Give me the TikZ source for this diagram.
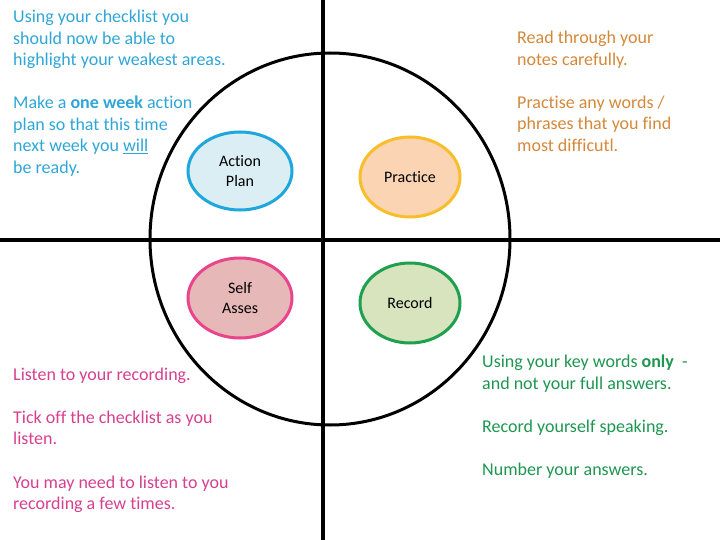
\documentclass[tikz,border=0pt]{standalone}
\usepackage{fontspec}
\setmainfont{Carlito}[Ligatures=NoCommon]
\usetikzlibrary{shapes.geometric}
\definecolor{tblue}{RGB}{47,166,214}
\definecolor{torange}{RGB}{212,136,58}
\definecolor{tpink}{RGB}{214,64,143}
\definecolor{tgreen}{RGB}{30,150,80}
\definecolor{apBorder}{RGB}{31,166,220}
\definecolor{apFill}{RGB}{218,238,243}
\definecolor{prBorder}{RGB}{247,190,42}
\definecolor{prFill}{RGB}{251,212,180}
\definecolor{saBorder}{RGB}{232,69,141}
\definecolor{saFill}{RGB}{230,185,184}
\definecolor{reBorder}{RGB}{31,160,80}
\definecolor{reFill}{RGB}{215,228,189}
\begin{document}
\begin{tikzpicture}[x=1pt,y=-1pt,
  txt/.style={anchor=base west, inner sep=0pt, font=\fontsize{18}{21.6}\selectfont},
  bubble/.style={ellipse, line width=3pt, align=center, inner sep=0pt,
    font=\fontsize{16}{19.5}\selectfont, text=black},
  axis/.style={line width=4pt, black},
  ring/.style={line width=3pt, black}]
\useasboundingbox (0,0) rectangle (720,540);
% axes and circle
\coordinate (vt) at (323,0);
\coordinate (vb) at (323,540);
\coordinate (hl) at (0,240);
\coordinate (hr) at (720,240);
\draw[axis] (vt) -- (vb);
\draw[axis] (hl) -- (hr);
\draw[ring] (330,239) ellipse [x radius=180, y radius=186];
% bubbles
\node[bubble, draw=apBorder, fill=apFill, minimum width=104pt, minimum height=78pt] (ap) at (240,171) {Action\\Plan};
\node[bubble, draw=prBorder, fill=prFill, minimum width=100pt, minimum height=80pt] (pr) at (410,177) {Practice};
\node[bubble, draw=saBorder, fill=saFill, minimum width=104pt, minimum height=80pt] (sa) at (240,298) {Self\\Asses};
\node[bubble, draw=reBorder, fill=reFill, minimum width=100pt, minimum height=80pt] (re) at (410,303) {Record};
% blue text
\node[txt, text=tblue] (b1) at (13,23) {Using your checklist you};
\node[txt, text=tblue] (b2) at (13,44.5) {should now be able to};
\node[txt, text=tblue] (b3) at (13,66) {highlight your weakest areas.};
\node[txt, text=tblue] (b4) at (13,109) {Make a \textbf{one week} action};
\node[txt, text=tblue] (b5) at (13,130.5) {plan so that this time};
\node[txt, text=tblue] (b6) at (13,152) {next week you \underline{will}};
\node[txt, text=tblue] (b7) at (13,173.5) {be ready.};
% orange text
\node[txt, text=torange] (o1) at (517,44) {Read through your};
\node[txt, text=torange] (o2) at (517,65.5) {notes carefully.};
\node[txt, text=torange] (o3) at (517,108.5) {Practise any words /};
\node[txt, text=torange] (o4) at (517,130) {phrases that you find};
\node[txt, text=torange] (o5) at (517,151.5) {most difficutl.};
% pink text
\node[txt, text=tpink] (p1) at (13,380) {Listen to your recording.};
\node[txt, text=tpink] (p2) at (13,423) {Tick off the checklist as you};
\node[txt, text=tpink] (p3) at (13,444.5) {listen.};
\node[txt, text=tpink] (p4) at (13,488) {You may need to listen to you};
\node[txt, text=tpink] (p5) at (13,509.5) {recording a few times.};
% green text
\node[txt, text=tgreen] (g1) at (482,367.5) {Using your key words \textbf{only}\ \ -};
\node[txt, text=tgreen] (g2) at (482,389) {and not your full answers.};
\node[txt, text=tgreen] (g3) at (482,432.5) {Record yourself speaking.};
\node[txt, text=tgreen] (g4) at (482,475.5) {Number your answers.};
\end{tikzpicture}
\end{document}
